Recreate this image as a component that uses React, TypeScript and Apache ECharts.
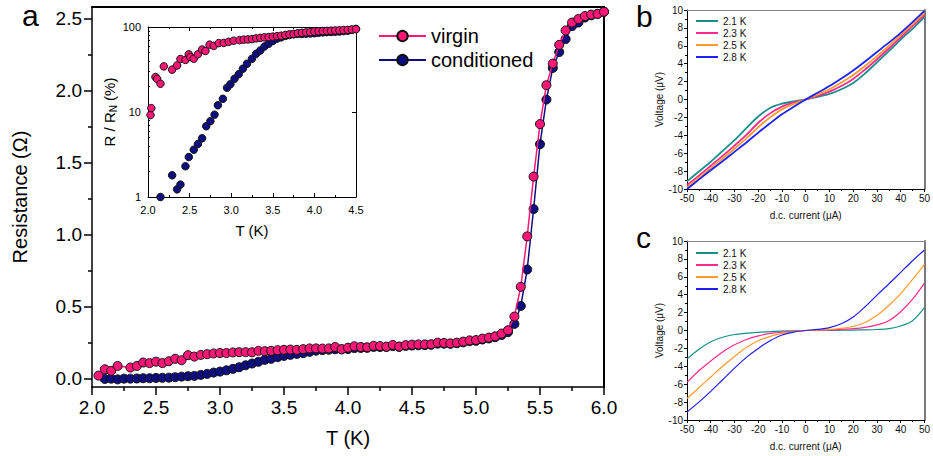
import React, { useEffect, useRef } from 'react';
import * as echarts from 'echarts';

// ---------- main panel (a) ----------
const virginT = [2.05, 2.1, 2.15, 2.2, 2.3, 2.35, 2.4, 2.45, 2.5, 2.55, 2.6, 2.65, 2.7, 2.75, 2.8, 2.85, 2.9, 2.95, 3.0, 3.05, 3.1, 3.15, 3.2, 3.25, 3.3, 3.35, 3.4, 3.45, 3.5, 3.55, 3.6, 3.65, 3.7, 3.75, 3.8, 3.85, 3.9, 3.95, 4.0, 4.05, 4.1, 4.15, 4.2, 4.25, 4.3, 4.35, 4.4, 4.45, 4.5, 4.55, 4.6, 4.65, 4.7, 4.75, 4.8, 4.85, 4.9, 4.95, 5.0, 5.05, 5.1, 5.15, 5.2, 5.25, 5.3, 5.35, 5.4, 5.45, 5.5, 5.55, 5.6, 5.65, 5.7, 5.75, 5.8, 5.85, 5.9, 5.95, 6.0];
const virginR = [0.023, 0.067, 0.056, 0.09, 0.079, 0.09, 0.114, 0.11, 0.12, 0.11, 0.123, 0.14, 0.13, 0.165, 0.155, 0.167, 0.172, 0.177, 0.18, 0.18, 0.184, 0.186, 0.186, 0.185, 0.195, 0.193, 0.195, 0.2, 0.202, 0.204, 0.202, 0.207, 0.212, 0.212, 0.211, 0.212, 0.222, 0.207, 0.217, 0.227, 0.222, 0.22, 0.23, 0.228, 0.224, 0.236, 0.225, 0.235, 0.238, 0.24, 0.24, 0.241, 0.252, 0.25, 0.247, 0.252, 0.259, 0.268, 0.27, 0.28, 0.287, 0.296, 0.315, 0.338, 0.433, 0.64, 0.99, 1.405, 1.77, 2.04, 2.19, 2.32, 2.42, 2.475, 2.5, 2.52, 2.53, 2.535, 2.55];

const condT = [2.1, 2.15, 2.2, 2.25, 2.3, 2.35, 2.4, 2.45, 2.5, 2.55, 2.6, 2.65, 2.7, 2.75, 2.8, 2.85, 2.9, 2.95, 3.0, 3.05, 3.1, 3.15, 3.2, 3.25, 3.3, 3.35, 3.4, 3.45, 3.5, 3.55, 3.6, 3.65, 3.7, 3.75, 3.8, 3.85, 3.9, 3.95, 4.0, 4.05, 4.1, 4.15, 4.2, 4.25, 4.3, 4.35, 4.4, 4.45, 4.5, 4.55, 4.6, 4.65, 4.7, 4.75, 4.8, 4.85, 4.9, 4.95, 5.0, 5.05, 5.1, 5.15, 5.2, 5.25, 5.3, 5.35, 5.4, 5.45, 5.5, 5.55, 5.6, 5.65, 5.7, 5.75, 5.8, 5.85, 5.9, 5.95, 6.0];
const condR = [0.0, 0.002, -0.003, 0.002, 0.002, 0.003, 0.005, 0.005, 0.007, 0.008, 0.009, 0.012, 0.016, 0.019, 0.021, 0.028, 0.035, 0.044, 0.051, 0.06, 0.07, 0.081, 0.095, 0.107, 0.119, 0.133, 0.14, 0.151, 0.16, 0.167, 0.174, 0.179, 0.188, 0.196, 0.2, 0.203, 0.206, 0.205, 0.208, 0.214, 0.215, 0.216, 0.222, 0.222, 0.222, 0.228, 0.223, 0.229, 0.232, 0.234, 0.235, 0.237, 0.245, 0.245, 0.244, 0.248, 0.254, 0.262, 0.265, 0.274, 0.281, 0.29, 0.305, 0.325, 0.382, 0.507, 0.76, 1.18, 1.63, 1.94, 2.16, 2.27, 2.36, 2.45, 2.475, 2.51, 2.525, 2.535, 2.55];

const mainYLabels = [0, 0.5, 1.0, 1.5, 2.0, 2.5];
const mainYMinor = [0.25, 0.75, 1.25, 1.75, 2.25];

// ---------- inset ----------
const insetVirginT = [2.03, 2.04, 2.09, 2.11, 2.15, 2.19, 2.29, 2.35, 2.39, 2.45, 2.49, 2.51, 2.55, 2.6, 2.65, 2.69, 2.74, 2.79, 2.85, 2.91, 2.97, 3.03, 3.1, 3.15, 3.2, 3.25, 3.3, 3.35, 3.4, 3.45, 3.5, 3.55, 3.6, 3.65, 3.7, 3.75, 3.8, 3.85, 3.9, 3.95, 4.0, 4.05, 4.1, 4.15, 4.2, 4.25, 4.3, 4.35, 4.4, 4.45, 4.5];
const insetVirginPct = [9.2, 11.1, 25.8, 24.5, 21.5, 34.4, 31.5, 35.3, 42, 41, 47.7, 44.3, 42.4, 47.7, 54.3, 52.2, 62, 60, 64.6, 65, 67, 69, 70, 71, 71.5, 72, 73.5, 74.5, 75.5, 76, 77, 78, 79, 80.5, 82, 83, 84.5, 85.5, 86.5, 87, 88.5, 89, 89.5, 90, 90.5, 91, 91.5, 92, 92.5, 93.5, 94];
const insetCondT = [2.15, 2.29, 2.35, 2.39, 2.45, 2.49, 2.55, 2.6, 2.65, 2.7, 2.75, 2.8, 2.84, 2.9, 2.95, 2.99, 3.04, 3.09, 3.14, 3.19, 3.25, 3.3, 3.35, 3.4, 3.45, 3.5, 3.55, 3.6, 3.65, 3.7, 3.75, 3.8, 3.85, 3.9, 3.95, 4.0, 4.05, 4.1, 4.15, 4.2, 4.25, 4.3, 4.35, 4.4, 4.45, 4.5];
const insetCondPct = [1.0, 1.8, 1.23, 1.4, 2.3, 2.95, 3.6, 4.2, 4.9, 6.8, 7.8, 9.3, 12, 14.3, 19.3, 21.2, 24.6, 27.8, 32.3, 37, 42.4, 48.4, 53, 59, 63.5, 68.5, 73, 75.5, 78.5, 80.5, 82, 83, 83, 83.5, 84, 84.5, 85.5, 86.5, 87, 87.5, 88, 88.5, 89.5, 90.5, 92.5, 95];
const insetYMinor = [2, 3, 4, 5, 6, 7, 8, 9, 20, 30, 40, 50, 60, 70, 80, 90];

// ---------- panels b & c ----------
const temps = ['2.1 K', '2.3 K', '2.5 K', '2.8 K'];
const currents = [-50, -45, -40, -35, -30, -25, -20, -15, -10, -5, 0, 5, 10, 15, 20, 25, 30, 35, 40, 45, 50];
const bV21 = [-9.15, -8.05, -6.95, -5.75, -4.55, -3.2, -1.9, -0.95, -0.47, -0.2, 0, 0.3, 0.62, 1.15, 1.85, 2.92, 4.15, 5.4, 6.7, 7.9, 9.2];
const bV23 = [-9.55, -8.5, -7.4, -6.3, -5.15, -3.95, -2.6, -1.55, -0.8, -0.33, 0, 0.4, 0.88, 1.5, 2.3, 3.35, 4.5, 5.7, 6.95, 8.2, 9.45];
const bV25 = [-9.8, -8.75, -7.7, -6.6, -5.5, -4.35, -3.1, -2.0, -1.1, -0.5, 0, 0.55, 1.15, 1.9, 2.75, 3.75, 4.85, 6.0, 7.2, 8.4, 9.65];
const bV28 = [-10.0, -8.95, -7.9, -6.9, -5.85, -4.8, -3.7, -2.65, -1.65, -0.8, 0, 0.75, 1.5, 2.35, 3.25, 4.25, 5.3, 6.35, 7.45, 8.65, 9.9];
const cV21 = [-3.2, -2.1, -1.25, -0.75, -0.45, -0.3, -0.2, -0.12, -0.07, -0.03, 0, 0.01, 0.02, 0.03, 0.05, 0.07, 0.11, 0.2, 0.5, 1.1, 2.55];
const cV23 = [-5.8, -4.5, -3.4, -2.4, -1.6, -1.0, -0.6, -0.33, -0.18, -0.08, 0, 0.03, 0.07, 0.12, 0.2, 0.35, 0.62, 1.1, 2.1, 3.5, 5.3];
const cV25 = [-7.6, -6.4, -5.2, -4.0, -2.9, -1.9, -1.15, -0.65, -0.32, -0.12, 0, 0.05, 0.12, 0.25, 0.45, 0.9, 1.7, 2.8, 4.1, 5.7, 7.4];
const cV28 = [-9.1, -8.0, -6.8, -5.5, -4.2, -3.0, -2.0, -1.15, -0.5, -0.18, 0, 0.12, 0.32, 0.75, 1.5, 2.65, 3.95, 5.2, 6.5, 7.8, 9.0];

const FONT = '"Liberation Sans", Arial, Helvetica, sans-serif';
const PINK = '#ff1676';
const NAVY = '#0e0e80';
const bColors = ['#17908c', '#ff2a8c', '#ff9a2e', '#1a22ff'];
const cColors = ['#17908c', '#ff2a8c', '#ff9a2e', '#1f1ff5'];

const zip = (xs: number[], ys: number[]) => xs.map((x, i) => [x, ys[i]]);

function buildOption(): any {
  const black = '#000';
  const noSplit = { show: false };
  const hidden = { show: false };

  const xAxis: any[] = [
    {
      gridIndex: 0, type: 'value', min: 2, max: 6, interval: 0.5, position: 'bottom',
      axisLine: { show: true, onZero: false, lineStyle: { color: black, width: 1.5 } },
      axisTick: { show: true, length: 8, lineStyle: { color: black, width: 1.5 } },
      minorTick: { show: true, splitNumber: 2, length: 4, lineStyle: { color: black, width: 1.5 } },
      axisLabel: { fontSize: 19, color: black, margin: 11, formatter: (v: number) => Number(v).toFixed(1) },
      splitLine: noSplit,
      name: 'T (K)', nameLocation: 'middle', nameGap: 41, nameTextStyle: { fontSize: 20, color: black },
    },
    {
      gridIndex: 0, type: 'value', min: 2, max: 6, position: 'top',
      axisLine: { show: true, onZero: false, lineStyle: { color: black, width: 2 } },
      axisTick: hidden, axisLabel: hidden, splitLine: noSplit,
    },
    {
      gridIndex: 1, type: 'value', min: 2, max: 4.5, interval: 0.5, position: 'bottom',
      axisLine: { show: true, onZero: false, lineStyle: { color: black, width: 1 } },
      axisTick: { show: true, inside: true, length: 4, lineStyle: { color: black } },
      minorTick: { show: true, splitNumber: 2, length: 2, lineStyle: { color: black } },
      axisLabel: { fontSize: 11, color: black, margin: 7, formatter: (v: number) => Number(v).toFixed(1) },
      splitLine: noSplit,
      name: 'T (K)', nameLocation: 'middle', nameGap: 26, nameTextStyle: { fontSize: 15, color: black },
    },
    {
      gridIndex: 1, type: 'value', min: 2, max: 4.5, interval: 0.5, position: 'top',
      axisLine: { show: true, onZero: false, lineStyle: { color: black, width: 1 } },
      axisTick: { show: true, inside: true, length: 4, lineStyle: { color: black } },
      minorTick: { show: true, splitNumber: 2, length: 2, lineStyle: { color: black } },
      axisLabel: hidden, splitLine: noSplit,
    },
    {
      gridIndex: 2, type: 'value', min: -50, max: 50, interval: 10, position: 'bottom',
      axisLine: { show: true, onZero: false, lineStyle: { color: black, width: 1 } },
      axisTick: { show: true, length: 3, lineStyle: { color: black } },
      minorTick: { show: true, splitNumber: 2, length: 2, lineStyle: { color: black } },
      axisLabel: { fontSize: 10, color: '#111', margin: 4 },
      splitLine: noSplit,
      name: 'd.c. current (μA)', nameLocation: 'middle', nameGap: 21, nameTextStyle: { fontSize: 10, color: '#111' },
    },
    {
      gridIndex: 2, type: 'value', min: -50, max: 50, position: 'top',
      axisLine: { show: true, onZero: false, lineStyle: { color: '#888', width: 1 } },
      axisTick: hidden, axisLabel: hidden, splitLine: noSplit,
    },
    {
      gridIndex: 3, type: 'value', min: -50, max: 50, interval: 10, position: 'bottom',
      axisLine: { show: true, onZero: false, lineStyle: { color: black, width: 1 } },
      axisTick: { show: true, length: 3, lineStyle: { color: black } },
      minorTick: { show: true, splitNumber: 2, length: 2, lineStyle: { color: black } },
      axisLabel: { fontSize: 10, color: '#111', margin: 4 },
      splitLine: noSplit,
      name: 'd.c. current (μA)', nameLocation: 'middle', nameGap: 21, nameTextStyle: { fontSize: 10, color: '#111' },
    },
    {
      gridIndex: 3, type: 'value', min: -50, max: 50, position: 'top',
      axisLine: { show: true, onZero: false, lineStyle: { color: '#888', width: 1 } },
      axisTick: hidden, axisLabel: hidden, splitLine: noSplit,
    },
  ];

  const yAxis: any[] = [
    {
      gridIndex: 0, type: 'value', min: -0.056, max: 2.583, position: 'left',
      axisLine: { show: true, onZero: false, lineStyle: { color: black, width: 1.5 } },
      axisTick: { show: true, customValues: mainYLabels, length: 8, lineStyle: { color: black, width: 1.5 } },
      axisLabel: { customValues: mainYLabels, fontSize: 19, color: black, margin: 10, formatter: (v: number) => Number(v).toFixed(1) },
      splitLine: noSplit,
      name: 'Resistance (Ω)', nameLocation: 'middle', nameGap: 62, nameTextStyle: { fontSize: 20, color: black },
    },
    {
      gridIndex: 0, type: 'value', min: -0.056, max: 2.583, position: 'left', offset: 0,
      axisLine: { show: false, onZero: false },
      axisTick: { show: true, customValues: mainYMinor, length: 4, lineStyle: { color: black, width: 1.5 } },
      axisLabel: hidden, splitLine: noSplit,
    },
    {
      gridIndex: 0, type: 'value', min: -0.056, max: 2.583, position: 'right',
      axisLine: { show: true, onZero: false, lineStyle: { color: black, width: 2 } },
      axisTick: hidden, axisLabel: hidden, splitLine: noSplit,
    },
    {
      gridIndex: 1, type: 'log', logBase: 10, min: 1, max: 100, position: 'left',
      axisLine: { show: true, onZero: false, lineStyle: { color: black, width: 1 } },
      axisTick: { show: true, inside: true, length: 4, lineStyle: { color: black } },
      axisLabel: { fontSize: 11, color: black, margin: 7, formatter: (v: number) => String(Math.round(v)) },
      splitLine: noSplit,
      name: 'R / R{sub|N} (%)', nameLocation: 'middle', nameGap: 25,
      nameTextStyle: {
        fontSize: 15, color: black, lineHeight: 19,
        rich: { sub: { fontSize: 10, lineHeight: 10, verticalAlign: 'bottom', color: black, fontFamily: FONT } },
      },
    },
    {
      gridIndex: 1, type: 'log', logBase: 10, min: 1, max: 100, position: 'left', offset: 0,
      axisLine: { show: false, onZero: false },
      axisTick: { show: true, inside: true, customValues: insetYMinor, length: 2, lineStyle: { color: black } },
      axisLabel: hidden, splitLine: noSplit,
    },
    {
      gridIndex: 1, type: 'log', logBase: 10, min: 1, max: 100, position: 'right',
      axisLine: { show: true, onZero: false, lineStyle: { color: black, width: 1 } },
      axisTick: { show: true, inside: true, length: 4, lineStyle: { color: black } },
      axisLabel: hidden, splitLine: noSplit,
    },
    {
      gridIndex: 2, type: 'value', min: -10, max: 10, interval: 2, position: 'left',
      axisLine: { show: true, onZero: false, lineStyle: { color: black, width: 1 } },
      axisTick: { show: true, length: 3, lineStyle: { color: black } },
      minorTick: { show: true, splitNumber: 2, length: 2, lineStyle: { color: black } },
      axisLabel: { fontSize: 10, color: '#111', margin: 4 },
      splitLine: noSplit,
      name: 'Voltage (μV)', nameLocation: 'middle', nameGap: 23, nameTextStyle: { fontSize: 10, color: '#111' },
    },
    {
      gridIndex: 2, type: 'value', min: -10, max: 10, position: 'right',
      axisLine: { show: true, onZero: false, lineStyle: { color: '#7a7a7a', width: 2 } },
      axisTick: hidden, axisLabel: hidden, splitLine: noSplit,
    },
    {
      gridIndex: 3, type: 'value', min: -10, max: 10, interval: 2, position: 'left',
      axisLine: { show: true, onZero: false, lineStyle: { color: black, width: 1 } },
      axisTick: { show: true, length: 3, lineStyle: { color: black } },
      minorTick: { show: true, splitNumber: 2, length: 2, lineStyle: { color: black } },
      axisLabel: { fontSize: 10, color: '#111', margin: 4 },
      splitLine: noSplit,
      name: 'Voltage (μV)', nameLocation: 'middle', nameGap: 23, nameTextStyle: { fontSize: 10, color: '#111' },
    },
    {
      gridIndex: 3, type: 'value', min: -10, max: 10, position: 'right',
      axisLine: { show: true, onZero: false, lineStyle: { color: '#7a7a7a', width: 2 } },
      axisTick: hidden, axisLabel: hidden, splitLine: noSplit,
    },
  ];

  const markerSeries = (name: string, data: number[][], color: string, xi: number, yi: number, size: number, z: number, withLine: boolean) => ({
    type: 'line', name, xAxisIndex: xi, yAxisIndex: yi, data,
    symbol: 'circle', symbolSize: size, showSymbol: true, showAllSymbol: true,
    lineStyle: withLine ? { color, width: 1.5 } : { color, width: 0, opacity: 0 },
    itemStyle: { color, borderColor: '#111', borderWidth: 1 },
    emphasis: { disabled: true }, silent: true, z,
  });

  const ivSeries = (prefix: string, vals: number[][], colors: string[], xi: number, yi: number, width: number) =>
    temps.map((t, k) => ({
      type: 'line', name: `${prefix} ${t}`, xAxisIndex: xi, yAxisIndex: yi,
      data: zip(currents, vals[k]), symbol: 'none', showSymbol: false, smooth: 0.3,
      lineStyle: { color: colors[k], width }, itemStyle: { color: colors[k] },
      emphasis: { disabled: true }, silent: true, z: 2 + k,
    }));

  const series: any[] = [
    markerSeries('conditioned', zip(condT, condR), NAVY, 0, 0, 9, 3, true),
    markerSeries('virgin', zip(virginT, virginR), PINK, 0, 0, 9, 4, true),
    markerSeries('inset conditioned', zip(insetCondT, insetCondPct), NAVY, 2, 3, 7.5, 5, false),
    markerSeries('inset virgin', zip(insetVirginT, insetVirginPct), PINK, 2, 3, 7.5, 6, false),
    ...ivSeries('b', [bV21, bV23, bV25, bV28], bColors, 4, 6, 1.8),
    ...ivSeries('c', [cV21, cV23, cV25, cV28], cColors, 6, 8, 1.2),
  ];

  const smallLegend = (prefix: string, top: number) => ({
    data: temps.map((t) => `${prefix} ${t}`),
    orient: 'vertical', left: 691, top, itemWidth: 22, itemHeight: 2, itemGap: 2, icon: 'rect',
    selectedMode: false,
    formatter: (n: string) => n.slice(2),
    textStyle: { fontSize: 10, color: '#111', lineHeight: 10, fontFamily: FONT },
  });

  return {
    animation: false,
    textStyle: { fontFamily: FONT },
    grid: [
      { left: 92, top: 7, width: 512, height: 380 },
      { left: 148, top: 27, width: 208, height: 170 },
      { left: 687, top: 10, width: 240, height: 179 },
      { left: 687, top: 241, width: 240, height: 179 },
    ],
    xAxis,
    yAxis,
    legend: [
      {
        data: ['virgin', 'conditioned'], orient: 'vertical', left: 373, top: 21,
        itemWidth: 47, itemHeight: 13, itemGap: 4, selectedMode: false,
        textStyle: { fontSize: 20, color: '#000', fontFamily: FONT },
      },
      smallLegend('b', 11),
      smallLegend('c', 243),
    ],
    graphic: [
      { type: 'text', x: 22, y: 15, style: { text: 'a', fontSize: 30, fontFamily: FONT, fill: '#000', textVerticalAlign: 'middle' } },
      { type: 'text', x: 636, y: 16, style: { text: 'b', fontSize: 30, fontFamily: FONT, fill: '#000', textVerticalAlign: 'middle' } },
      { type: 'text', x: 636, y: 237, style: { text: 'c', fontSize: 30, fontFamily: FONT, fill: '#000', textVerticalAlign: 'middle' } },
    ],
    series,
  };
}

export default function App() {
  const ref = useRef<HTMLDivElement>(null);
  useEffect(() => {
    if (!ref.current) return;
    const chart = echarts.init(ref.current, undefined, { renderer: 'svg' });
    chart.setOption(buildOption());
    return () => chart.dispose();
  }, []);
  return <div ref={ref} style={{ position: 'fixed', left: 0, top: 0, width: 933, height: 456, background: '#fff' }} />;
}
